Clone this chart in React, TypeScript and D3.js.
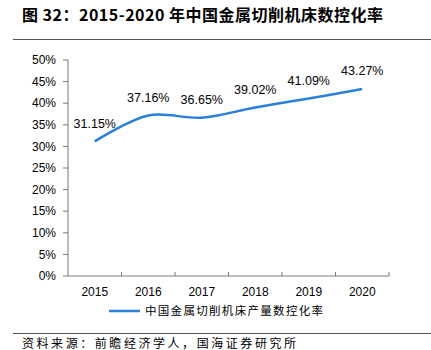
import * as d3 from "d3";

const years = ["2015", "2016", "2017", "2018", "2019", "2020"];
const rates = [31.15, 37.16, 36.65, 39.02, 41.09, 43.27];
const yTicks = [0, 5, 10, 15, 20, 25, 30, 35, 40, 45, 50];
const seriesName = "中国金属切削机床产量数控化率";
const title = "图 32：2015-2020 年中国金属切削机床数控化率";
const source = "资料来源：前瞻经济学人，国海证券研究所";

const App = () => {
    const width = 431;
    const height = 350;
    const left = 68;
    const right = 389;
    const top = 60;
    const bottom = 276;
    const latin = "'Liberation Sans', Arial, sans-serif";
    const cjk = "'Noto Sans CJK SC', 'Liberation Sans', sans-serif";

    const xScale = d3.scaleBand().domain(years).range([left, right]);
    const yScale = d3.scaleLinear().domain([0, 50]).range([bottom, top]);
    const cx = (y) => xScale(y) + xScale.bandwidth() / 2;

    // smooth line, like the spreadsheet one
    const line = d3
        .line()
        .x((d, i) => cx(years[i]))
        .y((d) => yScale(d))
        .curve(d3.curveCatmullRom.alpha(0.5));

    return (
        <svg
            width={width}
            height={height}
            style={{ position: "absolute", left: 0, top: 0, background: "#fff" }}
        >
            <text
                x={22}
                y={21}
                fontFamily={cjk}
                fontWeight="bold"
                fontSize={16}
                fill="#000"
                textLength={361}
                lengthAdjust="spacing"
            >
                {title}
            </text>
            <line x1={13} x2={431} y1={39.5} y2={39.5} stroke="#555" strokeWidth={1} />

            {/* y axis */}
            <line x1={left} x2={left} y1={top} y2={bottom} stroke="#777" />
            {yTicks.map((t) => (
                <g key={t}>
                    <line x1={left - 5} x2={left} y1={yScale(t)} y2={yScale(t)} stroke="#777" />
                    <text
                        x={56}
                        y={yScale(t)}
                        dy="0.35em"
                        textAnchor="end"
                        fontFamily={latin}
                        fontSize={12}
                        fill="#000"
                    >
                        {t}%
                    </text>
                </g>
            ))}

            {/* x axis */}
            <line x1={left} x2={right} y1={bottom} y2={bottom} stroke="#777" />
            {years.map((y) => (
                <g key={y}>
                    <line
                        x1={xScale(y) + xScale.bandwidth()}
                        x2={xScale(y) + xScale.bandwidth()}
                        y1={bottom}
                        y2={bottom - 4}
                        stroke="#777"
                    />
                    <text
                        x={cx(y)}
                        y={292}
                        dy="0.35em"
                        textAnchor="middle"
                        fontFamily={latin}
                        fontSize={12}
                        fill="#000"
                    >
                        {y}
                    </text>
                </g>
            ))}

            <path d={line(rates)} fill="none" stroke="#2A7FDB" strokeWidth={2.5} />

            {rates.map((v, i) => (
                <text
                    key={years[i]}
                    x={cx(years[i])}
                    y={yScale(v) - 18}
                    dy="0.35em"
                    textAnchor="middle"
                    fontFamily={latin}
                    fontSize={12.5}
                    fill="#000"
                >
                    {v.toFixed(2)}%
                </text>
            ))}

            {/* legend */}
            <line x1={109} x2={140} y1={311} y2={311} stroke="#2A7FDB" strokeWidth={2.5} />
            <text
                x={145}
                y={311}
                dy="0.35em"
                fontFamily={cjk}
                fontSize={11.5}
                fill="#000"
                textLength={178}
                lengthAdjust="spacing"
            >
                {seriesName}
            </text>

            <line x1={13} x2={431} y1={333.5} y2={333.5} stroke="#555" strokeWidth={1} />
            <text
                x={22}
                y={344}
                dy="0.35em"
                fontFamily={cjk}
                fontSize={12}
                fill="#000"
                textLength={274}
                lengthAdjust="spacing"
            >
                {source}
            </text>
        </svg>
    );
};

export default App;
